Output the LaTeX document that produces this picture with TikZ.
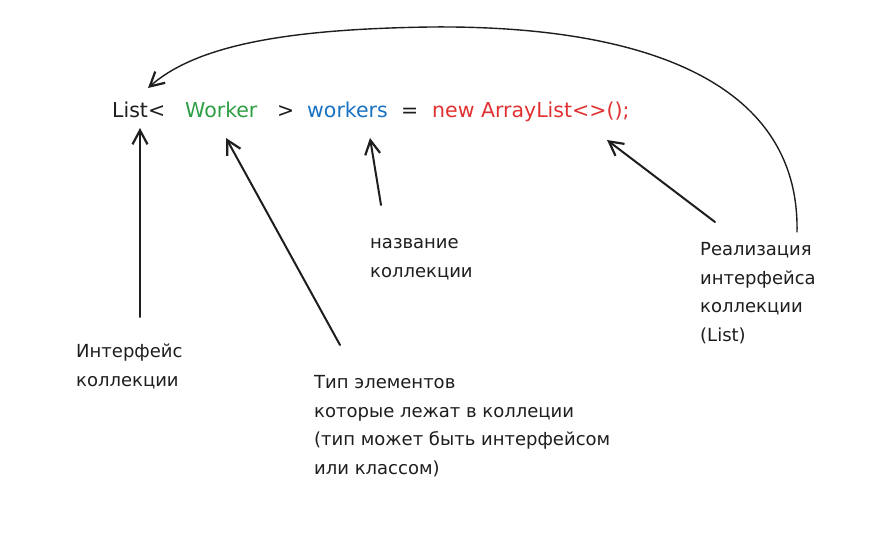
\documentclass[tikz,border=0pt]{standalone}
\usepackage{fontspec}
\setmainfont{DejaVu Sans}
\usepackage{xcolor}
\usepackage{tikz}
\usetikzlibrary{arrows.meta}
\definecolor{encre}{HTML}{1E1E1E}
\definecolor{vert}{HTML}{2F9E44}
\definecolor{bleu}{HTML}{1971C2}
\definecolor{rouge}{HTML}{E03131}
\newcommand*{\basCode}{118}
\tikzset{
	code/.style ={anchor=base west,inner sep=0pt,font=\fontsize{20.5}{28}\selectfont},
	legende/.style ={anchor=base west,inner sep=0pt,align=left,text=encre,font=\fontsize{18}{28.5}\selectfont},
	fleche/.style ={encre,line width=2pt,line cap=round,-{Straight Barb[length=14pt,width=15pt,line width=2.2pt]}},
	fleche fine/.style ={encre,line width=1.4pt,line cap=round,-{Straight Barb[length=14pt,width=15pt,line width=2.2pt]}}
}

\begin{document}
\begin{tikzpicture}[x=1pt,y=-1pt]
	\useasboundingbox[fill=white] (0,0) rectangle (874,540);
	% ligne de code
	\node[code,text=encre] (list) at (112,\basCode) {List<};
	\node[code,text=vert] (worker) at (185,\basCode) {Worker};
	\node[code,text=encre] (gt) at (277,\basCode) {>};
	\node[code,text=bleu] (workers) at (307,\basCode) {workers};
	\node[code,text=encre] (eq) at (401,\basCode) {=};
	\node[code,text=rouge] (impl) at (432,\basCode) {new ArrayList<>();};

	% legendes (base = derniere ligne)
	\node[legende] (interface) at (76,386) {Интерфейс\\коллекции};
	\node[legende] (type) at (314,474) {Тип элементов\\которые лежат в коллеции\\(тип может быть интерфейсом\\или классом)};
	\node[legende] (nom) at (370,277) {название\\коллекции};
	\node[legende] (realisation) at (700,341) {Реализация\\интерфейса\\коллекции\\(List)};

	\coordinate (pList) at (140,128);
	\coordinate (pWorker) at (226,138);
	\coordinate (pWorkers) at (370,138);
	\coordinate (pImpl) at (607,140);
	\coordinate (pHaut) at (148,88);

	\coordinate (qInterface) at (140,317);
	\coordinate (qType) at (340,345);
	\coordinate (qNom) at (381,205);
	\coordinate (qRealisation) at (715,222);
	\coordinate (qCourbe) at (797,232);

	\draw[fleche] (qInterface) -- (pList);
	\draw[fleche] (qType) -- (pWorker);
	\draw[fleche] (qNom) -- (pWorkers);
	\draw[fleche] (qRealisation) -- (pImpl);
	\draw[fleche fine] (qCourbe) .. controls (800,80) and (640,25) .. (430,27)
		.. controls (300,29) and (200,42) .. (pHaut);
\end{tikzpicture}
\end{document}
